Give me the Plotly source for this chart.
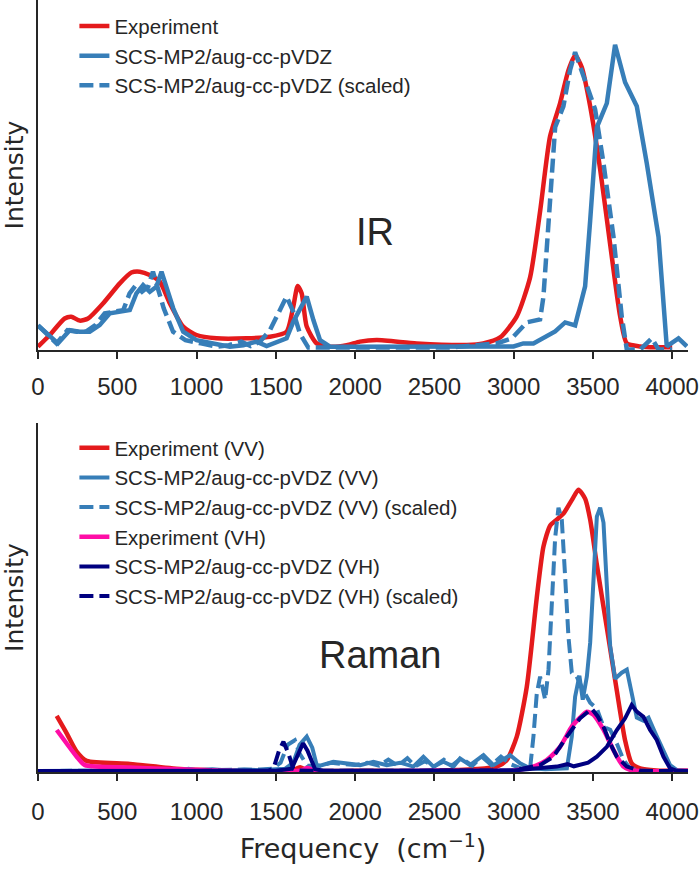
import plotly.graph_objects as go

# ---------------- IR data (frequency in cm^-1, normalized intensity) ----------------
ir_exp_freq = [0, 74, 168, 210, 263, 316, 410, 516, 589, 642, 705, 768, 832, 916, 1000, 1126, 1316, 1463, 1568,
               1610, 1638, 1663, 1695, 1758, 1842, 1947, 2031, 2137, 2389, 2705, 2808, 2915, 3020, 3104, 3167,
               3230, 3293, 3346, 3388, 3430, 3483, 3546, 3609, 3672, 3714, 3798, 3900, 4000]
ir_exp_int = [0.009, 0.048, 0.103, 0.109, 0.096, 0.103, 0.153, 0.22, 0.256, 0.259, 0.248, 0.226, 0.153, 0.076,
              0.048, 0.037, 0.037, 0.042, 0.059, 0.142, 0.211, 0.187, 0.076, 0.02, 0.009, 0.014, 0.026, 0.031,
              0.02, 0.015, 0.02, 0.04, 0.11, 0.24, 0.46, 0.71, 0.82, 0.93, 0.98, 0.94, 0.81, 0.60, 0.35, 0.11,
              0.02, 0.01, 0.007, 0.007]

ir_calc_freq = [0, 63, 126, 200, 263, 326, 389, 453, 516, 579, 621, 663, 705, 747, 779, 810, 853, 916, 1000, 1105,
                1210, 1295, 1379, 1442, 1505, 1568, 1610, 1652, 1695, 1737, 1779, 1842, 2031, 2400, 2800, 3000,
                3061, 3125, 3262, 3325, 3388, 3451, 3483, 3525, 3588, 3640, 3703, 3777, 3840, 3914, 3966, 4040,
                4093]
ir_calc_int = [0.08, 0.048, 0.02, 0.064, 0.059, 0.059, 0.081, 0.12, 0.126, 0.131, 0.187, 0.214, 0.192, 0.209,
               0.259, 0.209, 0.137, 0.059, 0.031, 0.02, 0.009, 0.014, 0.026, 0.011, 0.026, 0.037, 0.092, 0.137,
               0.176, 0.098, 0.031, 0.009, 0.009, 0.008, 0.008, 0.01, 0.02, 0.02, 0.06, 0.09, 0.08, 0.21, 0.43,
               0.74, 0.82, 1.015, 0.89, 0.81, 0.62, 0.375, 0.01, 0.037, 0.01]

ir_scaled_freq = [0, 59, 117, 186, 245, 303, 362, 421, 480, 538, 578, 617, 656, 695, 725, 753, 793, 852, 930,
                  1028, 1126, 1204, 1282, 1341, 1400, 1463, 1516, 1568, 1610, 1652, 1705, 1800, 2200, 2600, 2893,
                  2989, 3083, 3167, 3188, 3209, 3241, 3262, 3314, 3356, 3388, 3430, 3472, 3514, 3567, 3630, 3682,
                  3714, 3800, 3872, 3914, 4000]
ir_scaled_int = [0.08, 0.048, 0.02, 0.064, 0.059, 0.059, 0.081, 0.12, 0.126, 0.131, 0.187, 0.214, 0.192, 0.209,
                 0.259, 0.209, 0.137, 0.059, 0.031, 0.02, 0.009, 0.014, 0.026, 0.011, 0.026, 0.064, 0.12, 0.176,
                 0.126, 0.053, 0.006, 0.006, 0.006, 0.006, 0.02, 0.037, 0.09, 0.10, 0.175, 0.34, 0.56, 0.74, 0.81,
                 0.93, 0.99, 0.93, 0.86, 0.80, 0.62, 0.375, 0.11, 0.0, 0.0, 0.037, 0.0, 0.0]

# ---------------- Raman data ----------------
ram_exp_vv_freq = [118, 181, 244, 307, 580, 896, 1200, 1600, 1653, 1700, 2000, 2500, 2894, 2957, 3020, 3083,
                   3146, 3188, 3230, 3272, 3314, 3367, 3409, 3451, 3483, 3525, 3588, 3651, 3703, 3745, 3798,
                   3900, 4100]
ram_exp_vv_int = [0.186, 0.128, 0.067, 0.036, 0.026, 0.009, 0.004, 0.004, 0.015, 0.004, 0.003, 0.003, 0.017,
                  0.039, 0.117, 0.283, 0.58, 0.75, 0.82, 0.84, 0.86, 0.905, 0.94, 0.91, 0.84, 0.69, 0.48, 0.27,
                  0.105, 0.028, 0.011, 0.004, 0.003]

ram_calc_vv_freq = [0, 500, 900, 950, 1000, 1100, 1200, 1300, 1400, 1500, 1560, 1610, 1650, 1695, 1730, 1758,
                    1779, 1863, 1947, 2031, 2116, 2200, 2284, 2368, 2431, 2494, 2557, 2621, 2662, 2725, 2810,
                    2873, 2978, 3041, 3104, 3200, 3336, 3367, 3388, 3415, 3436, 3462, 3483, 3504, 3525, 3546,
                    3567, 3588, 3609, 3640, 3682, 3714, 3745, 3777, 3819, 3851, 3893, 3935, 3987, 4030, 4100]
ram_calc_vv_int = [0.002, 0.002, 0.005, 0.01, 0.005, 0.008, 0.004, 0.007, 0.005, 0.008, 0.01, 0.03, 0.09,
                   0.117, 0.08, 0.022, 0.02, 0.033, 0.028, 0.022, 0.033, 0.022, 0.03, 0.017, 0.05, 0.017, 0.033,
                   0.017, 0.044, 0.022, 0.055, 0.022, 0.055, 0.028, 0.011, 0.008, 0.011, 0.117, 0.25, 0.32,
                   0.24, 0.317, 0.43, 0.67, 0.85, 0.88, 0.83, 0.62, 0.42, 0.31, 0.33, 0.34, 0.26, 0.18, 0.17,
                   0.18, 0.13, 0.083, 0.022, 0.005, 0.003]

ram_scaled_vv_freq = [0, 800, 1000, 1200, 1400, 1480, 1530, 1575, 1620, 1650, 1700, 1780, 1850, 1930, 2000,
                      2080, 2150, 2210, 2270, 2330, 2380, 2440, 2500, 2560, 2610, 2670, 2740, 2800, 2860, 2920,
                      2980, 3050, 3104, 3125, 3146, 3167, 3199, 3220, 3241, 3262, 3283, 3304, 3325, 3346, 3367,
                      3398, 3441, 3483, 3525, 3567, 3609, 3651, 3693, 3735, 3800, 4100]
ram_scaled_vv_int = [0.002, 0.003, 0.006, 0.005, 0.007, 0.01, 0.03, 0.09, 0.105, 0.06, 0.02, 0.02, 0.03, 0.025,
                     0.022, 0.03, 0.02, 0.04, 0.02, 0.045, 0.018, 0.035, 0.018, 0.04, 0.02, 0.045, 0.02, 0.05,
                     0.022, 0.05, 0.025, 0.01, 0.011, 0.117, 0.26, 0.317, 0.24, 0.34, 0.56, 0.78, 0.88, 0.84,
                     0.65, 0.45, 0.33, 0.317, 0.27, 0.23, 0.21, 0.15, 0.14, 0.094, 0.039, 0.011, 0.003, 0.002]

ram_exp_vh_freq = [118, 181, 244, 296, 580, 875, 1200, 1650, 1700, 1750, 2500, 3000, 3125, 3209, 3293, 3367,
                   3419, 3462, 3504, 3567, 3630, 3693, 3750, 4100]
ram_exp_vh_int = [0.139, 0.094, 0.05, 0.022, 0.014, 0.008, 0.003, 0.003, 0.012, 0.003, 0.003, 0.004, 0.017,
                  0.039, 0.083, 0.15, 0.18, 0.2, 0.19, 0.14, 0.072, 0.017, 0.004, 0.003]

ram_calc_vh_freq = [0, 1000, 1500, 1600, 1640, 1672, 1700, 1748, 1800, 2500, 3000, 3272, 3340, 3380, 3420, 3470,
                    3525, 3588, 3651, 3703, 3745, 3777, 3819, 3861, 3903, 3945, 3987, 4030, 4100]
ram_calc_vh_int = [0.002, 0.002, 0.003, 0.01, 0.06, 0.095, 0.07, 0.008, 0.003, 0.003, 0.004, 0.017, 0.025,
                   0.018, 0.022, 0.03, 0.05, 0.083, 0.139, 0.178, 0.222, 0.2, 0.183, 0.139, 0.106, 0.05, 0.011,
                   0.003, 0.002]

ram_scaled_vh_freq = [0, 1000, 1450, 1485, 1520, 1548, 1580, 1610, 1650, 1700, 2500, 3000, 3167, 3251, 3336,
                      3419, 3493, 3530, 3567, 3609, 3651, 3714, 3800, 4100]
ram_scaled_vh_int = [0.002, 0.002, 0.003, 0.01, 0.07, 0.10, 0.06, 0.01, 0.004, 0.003, 0.003, 0.004, 0.022,
                     0.05, 0.117, 0.178, 0.21, 0.185, 0.15, 0.094, 0.05, 0.017, 0.003, 0.002]

x_ticks = [0, 500, 1000, 1500, 2000, 2500, 3000, 3500, 4000]

RED = "#e41a1c"
BLUE = "#377eb8"
PINK = "#ff0da6"
NAVY = "#000080"
TEXT = "#262626"
DASH = "14px,6px"

fig = go.Figure()

# IR panel
fig.add_trace(go.Scatter(x=ir_exp_freq, y=ir_exp_int, mode="lines", name="Experiment",
                         line=dict(color=RED, width=4.5, shape="spline", smoothing=0.6),
                         xaxis="x", yaxis="y", legend="legend"))
fig.add_trace(go.Scatter(x=ir_calc_freq, y=ir_calc_int, mode="lines", name="SCS-MP2/aug-cc-pVDZ",
                         line=dict(color=BLUE, width=4.5),
                         xaxis="x", yaxis="y", legend="legend"))
fig.add_trace(go.Scatter(x=ir_scaled_freq, y=ir_scaled_int, mode="lines", name="SCS-MP2/aug-cc-pVDZ (scaled)",
                         line=dict(color=BLUE, width=4.5, dash=DASH),
                         xaxis="x", yaxis="y", legend="legend"))

# Raman panel
fig.add_trace(go.Scatter(x=ram_exp_vv_freq, y=ram_exp_vv_int, mode="lines", name="Experiment (VV)",
                         line=dict(color=RED, width=4.5, shape="spline", smoothing=0.6),
                         xaxis="x2", yaxis="y2", legend="legend2"))
fig.add_trace(go.Scatter(x=ram_calc_vv_freq, y=ram_calc_vv_int, mode="lines", name="SCS-MP2/aug-cc-pVDZ (VV)",
                         line=dict(color=BLUE, width=4),
                         xaxis="x2", yaxis="y2", legend="legend2"))
fig.add_trace(go.Scatter(x=ram_scaled_vv_freq, y=ram_scaled_vv_int, mode="lines",
                         name="SCS-MP2/aug-cc-pVDZ (VV) (scaled)",
                         line=dict(color=BLUE, width=4, dash=DASH),
                         xaxis="x2", yaxis="y2", legend="legend2"))
fig.add_trace(go.Scatter(x=ram_exp_vh_freq, y=ram_exp_vh_int, mode="lines", name="Experiment (VH)",
                         line=dict(color=PINK, width=4.5, shape="spline", smoothing=0.6),
                         xaxis="x2", yaxis="y2", legend="legend2"))
fig.add_trace(go.Scatter(x=ram_calc_vh_freq, y=ram_calc_vh_int, mode="lines", name="SCS-MP2/aug-cc-pVDZ (VH)",
                         line=dict(color=NAVY, width=4),
                         xaxis="x2", yaxis="y2", legend="legend2"))
fig.add_trace(go.Scatter(x=ram_scaled_vh_freq, y=ram_scaled_vh_int, mode="lines",
                         name="SCS-MP2/aug-cc-pVDZ (VH) (scaled)",
                         line=dict(color=NAVY, width=4, dash=DASH),
                         xaxis="x2", yaxis="y2", legend="legend2"))

tick_font = dict(family="Liberation Sans, Arial, sans-serif", size=24, color=TEXT)

xaxis_common = dict(range=[0, 4100], tickvals=x_ticks, ticktext=[str(t) for t in x_ticks],
                    showline=True, linecolor=TEXT, linewidth=1.5, ticks="outside", ticklen=7,
                    tickwidth=1.5, tickcolor=TEXT, showgrid=False, zeroline=False, mirror=False,
                    tickfont=tick_font, automargin=False)
yaxis_common = dict(showline=True, linecolor=TEXT, linewidth=1.5, ticks="", showticklabels=False,
                    showgrid=False, zeroline=False, mirror=False, automargin=False)

title_font = dict(family="DejaVu Sans, sans-serif", size=25, color=TEXT)
legend_font = dict(family="Liberation Sans, Arial, sans-serif", size=20.5, color=TEXT)

fig.update_layout(
    width=700, height=869,
    margin=dict(l=38, r=12, t=0, b=97),
    plot_bgcolor="white", paper_bgcolor="white",
    xaxis=dict(domain=[0, 1], anchor="y", ticklabelstandoff=7, **xaxis_common),
    yaxis=dict(domain=[0.5466, 1.0], anchor="x", range=[-0.002, 1.164],
               title=dict(text="Intensity", font=title_font, standoff=12), **yaxis_common),
    xaxis2=dict(domain=[0, 1], anchor="y2", ticklabelstandoff=10,
                title=dict(text="Frequency  (cm<sup>−1</sup>)",
                           font=dict(family="DejaVu Sans, sans-serif", size=27, color=TEXT), standoff=16),
                **xaxis_common),
    yaxis2=dict(domain=[0, 0.452], anchor="x2", range=[-0.001, 1.162],
                title=dict(text="Intensity", font=title_font, standoff=12), **yaxis_common),
    legend=dict(x=0.056, y=0.992, xanchor="left", yanchor="top", bgcolor="rgba(0,0,0,0)", font=legend_font),
    legend2=dict(x=0.056, y=0.4456, xanchor="left", yanchor="top", bgcolor="rgba(0,0,0,0)", font=legend_font),
    annotations=[
        dict(text="IR", x=2126, y=0.39, xref="x", yref="y", showarrow=False,
             font=dict(family="Liberation Sans, Arial, sans-serif", size=38, color=TEXT)),
        dict(text="Raman", x=2158, y=0.39, xref="x2", yref="y2", showarrow=False,
             font=dict(family="Liberation Sans, Arial, sans-serif", size=38, color=TEXT)),
    ],
)

fig.write_html("out.html", config={"displayModeBar": False},
               post_script="document.body.style.margin='0px';")
